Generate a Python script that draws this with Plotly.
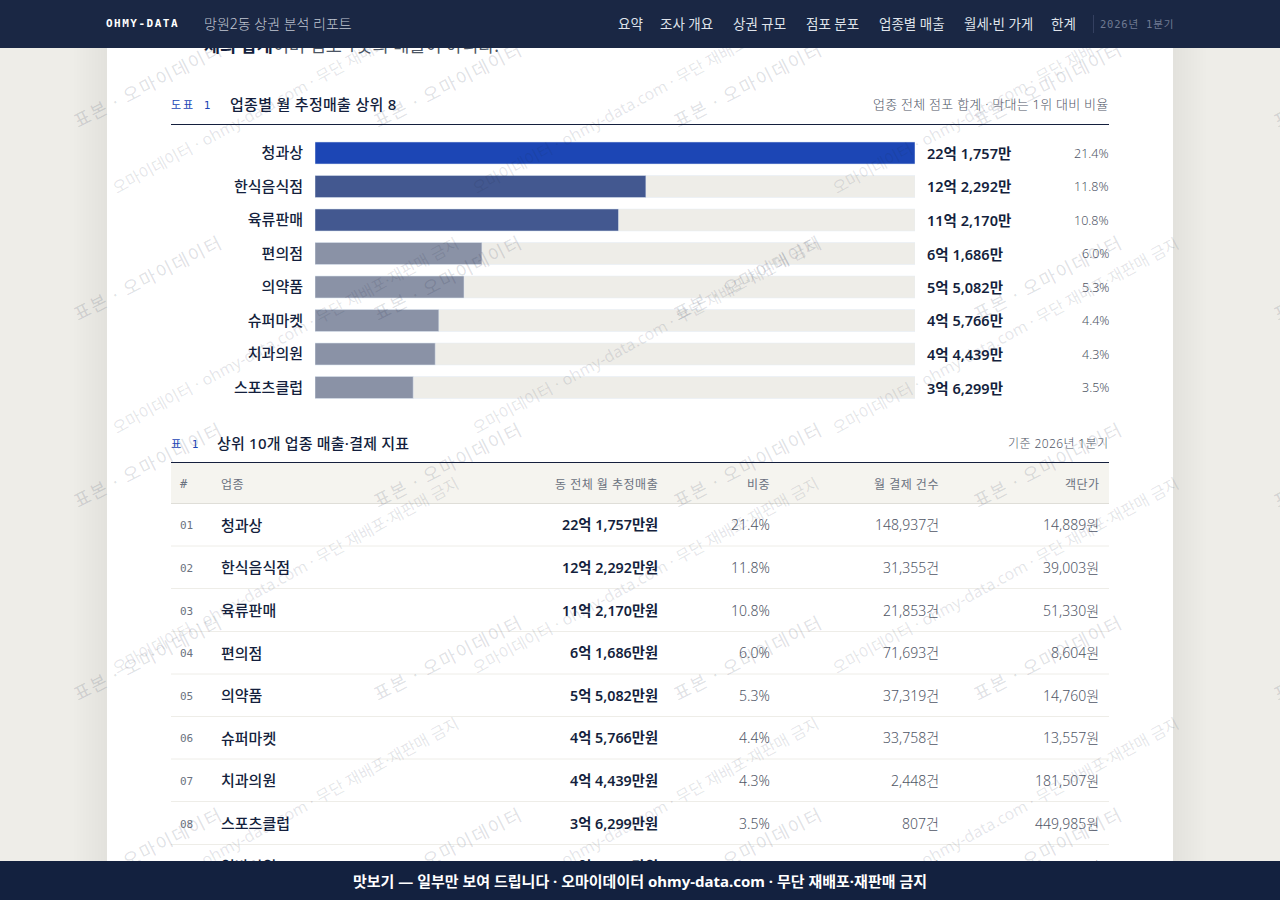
import plotly.graph_objects as go

categories = ["청과상", "한식음식점", "육류판매", "편의점", "의약품", "슈퍼마켓", "치과의원", "스포츠클럽", "일반의원"]
sales_man = [221757, 122292, 112170, 61686, 55082, 45766, 44439, 36299, 33000]
shares = [21.4, 11.8, 10.8, 6.0, 5.3, 4.4, 4.3, 3.5, 3.2]
payments = [148937, 31355, 21853, 71693, 37319, 33758, 2448, 807, 9000]
tickets = [14889, 39003, 51330, 8604, 14760, 13557, 181507, 449985, 37000]
bar_colors = ["#1c46b5", "#435890", "#435890", "#8a92a6", "#8a92a6", "#8a92a6", "#8a92a6", "#8a92a6"]
nav_items = ["요약", "조사 개요", "상권 규모", "점포 분포", "업종별 매출", "월세·빈 가게", "한계"]
nav_x = [618, 660, 733, 806, 879, 964, 1051]
table_header = ["#", "업종", "동 전체 월 추정매출", "비중", "월 결제 건수", "객단가"]

W, H = 1280, 900
NAVY = "#141f3d"
GRAY = "#6b7280"
GRAY_LIGHT = "#4f5666"  # thin text needs a darker colour to read the same
SANS = "Noto Sans, Noto Sans CJK KR, sans-serif"
MONO = "DejaVu Sans Mono, Noto Sans CJK KR, monospace"


def px(x):
    return x / W


def py(y):
    return 1 - y / H


def money(v):
    return f"{v // 10000}억 {v % 10000:,}만"


def spaced(text, s):
    return f"<span style='letter-spacing:{s}px'>{text}</span>"


notes = []


def label(x, y, text, size=14, color=NAVY, anchor="left", family=SANS, weight=None, angle=0):
    notes.append(dict(xref="paper", yref="paper", x=px(x), y=py(y), text=text, showarrow=False,
                      xanchor=anchor, yanchor="middle", textangle=angle, borderpad=0, borderwidth=0,
                      font=dict(family=family, size=size, color=color, weight=weight)))


def band(x0, x1, y0, y1, color, text="\u00a0", size=15):
    # annotations sit above everything, so the bars that cover the watermark have to be annotations too
    notes.append(dict(xref="paper", yref="paper", x=px(x0), y=py(y0), xanchor="left", yanchor="top",
                      width=x1 - x0, height=y1 - y0, bgcolor=color, text=text, showarrow=False,
                      align="center", valign="middle", borderpad=0, borderwidth=0,
                      font=dict(family=SANS, size=size, color="#ffffff", weight=700)))


fig = go.Figure()
top = categories[:8]
fig.add_trace(go.Bar(y=top, x=[max(sales_man)] * 8, orientation="h", marker=dict(color="#eeede8"), hoverinfo="skip"))
fig.add_trace(go.Bar(y=top, x=sales_man[:8], orientation="h", marker=dict(color=bar_colors)))

shapes = []
# card shadow
for i in range(12):
    shapes.append(dict(type="rect", xref="paper", yref="paper", layer="below", x0=px(107 - 3 * i), x1=px(1173 + 3 * i),
                       y0=0, y1=1, line_width=0, fillcolor="rgba(40,40,30,0.005)"))
shapes.append(dict(type="rect", xref="paper", yref="paper", layer="below", x0=px(107), x1=px(1173), y0=0, y1=1,
                   line_width=0, fillcolor="#ffffff"))


def rule(y, color, width=1):
    shapes.append(dict(type="line", xref="paper", yref="paper", layer="below", x0=px(171), x1=px(1109),
                       y0=py(y), y1=py(y), line=dict(color=color, width=width)))


shapes.append(dict(type="rect", xref="paper", yref="paper", layer="below", x0=px(171), x1=px(1109), y0=py(503),
                   y1=py(463), line_width=0, fillcolor="#f5f4ef"))
rule(124.5, NAVY)
rule(462.5, NAVY)
rule(503.5, "#dfded8")
row_y = [524.5, 567, 610, 652.5, 695, 737.5, 780, 823, 866]
for y in row_y[:8]:
    rule(y + 21.5, "#eeede8")

# intro sentence, cut off by the nav bar
label(204, 45, "<b>체의 합계</b><span style='color:#4b5563'>이며 점포 1곳의 매출이 아니다.</span>", size=17.5)

# chart heading and value labels
label(171, 105, spaced("도표 1", 2), size=11, color="#1c46b5", family=MONO)
label(230, 104, spaced("업종별 월 추정매출 상위 8", 0.3), size=15, weight=500)
label(1109, 104, spaced("업종 전체 점포 합계 · 막대는 1위 대비 비율", 0.25), size=13, color=GRAY_LIGHT, anchor="right", weight=300)
for i in range(8):
    y = 153 + 33.5 * i
    label(927, y, money(sales_man[i]), size=14.5, weight=600)
    label(1109, y, f"{shares[i]:.1f}%", size=12.5, color=GRAY_LIGHT, anchor="right", weight=300)

# table
label(171, 444, spaced("표 1", 2), size=11, color="#1c46b5", family=MONO)
label(217, 443, spaced("상위 10개 업종 매출·결제 지표", 0.2), size=15, weight=500)
label(1109, 443, spaced("기준 2026년 1분기", 0.4), size=12, color=GRAY_LIGHT, anchor="right", weight=300)
col_x = [180, 221, 658, 770, 939, 1099]
header_x = [180, 221, 658, 770, 939, 1100]
for j, name in enumerate(table_header):
    label(header_x[j], 484, spaced(name, 0.5), size=12, color=GRAY, anchor="left" if j < 2 else "right",
          family=MONO if j == 0 else SANS)
for i, y in enumerate(row_y):
    label(col_x[0], y + 1, f"{i + 1:02d}", size=11, color=GRAY, family=MONO)
    label(col_x[1], y, categories[i], size=15, weight=500)
    label(col_x[2], y, money(sales_man[i]) + "원", size=14.3, weight=600, anchor="right")
    label(col_x[3], y, f"{shares[i]:.1f}%", size=14, color=GRAY_LIGHT, anchor="right", weight=300)
    label(col_x[4], y, f"{payments[i]:,}건", size=14, color=GRAY_LIGHT, anchor="right", weight=300)
    label(col_x[5], y, f"{tickets[i]:,}원", size=14, color=GRAY_LIGHT, anchor="right", weight=300)

# watermarks
wm_big = spaced("표본 · 오마이데이터", 1.6)
wm_small = "오마이데이터 · ohmy-data.com · 무단 재배포·재판매 금지"
for cy in [85, 278, 465, 658, 850]:
    for cx in [147.5, 447.5, 747.5, 1047.5, 1347.5]:
        label(cx, cy, wm_big, size=18, color="rgba(26,39,68,0.15)", anchor="center", angle=-27)
for cy in [96, 336, 576, 816]:
    for cx in [285, 645, 1005]:
        label(cx, cy, wm_small, size=16, color="rgba(26,39,68,0.12)", anchor="center", angle=-28.6)

# nav and footer last so they cover the watermark
band(0, W, 0, 48, "#1a2744")
band(0, W, 861, 900, "#13213f", "맛보기 — 일부만 보여 드립니다 · 오마이데이터 ohmy-data.com · 무단 재배포·재판매 금지")
band(1093, 1094, 15, 33, "#344060", size=1)
label(106, 24, spaced("OHMY-DATA", 1.5), size=11, color="#ffffff", family=MONO, weight=700)
label(204, 24, "망원2동 상권 분석 리포트", size=14, color="#c0c6d2", weight=300)
for name, x in zip(nav_items, nav_x):
    label(x, 24, name, size=13.5, color="#dfe3ea")
label(1100, 24, spaced("2026년 1분기", 0.8), size=10.5, color="#6f7a92", family=MONO)

fig.update_layout(
    width=W, height=H, margin=dict(l=0, r=0, t=0, b=0), paper_bgcolor="#eeede8", plot_bgcolor="rgba(0,0,0,0)",
    barmode="overlay", bargap=0.343, showlegend=False, shapes=shapes, annotations=notes,
    xaxis=dict(domain=[px(315), px(915)], range=[0, max(sales_man)], visible=False),
    yaxis=dict(domain=[py(404.25), py(136.25)], autorange="reversed", showgrid=False, zeroline=False, showline=False,
               ticks="", ticklabelstandoff=11, tickfont=dict(family=SANS, size=15, color=NAVY, weight=500)),
)
fig.write_html("out.html", config=dict(displayModeBar=False),
               post_script="document.body.style.margin='0';document.body.style.overflow='hidden';")
